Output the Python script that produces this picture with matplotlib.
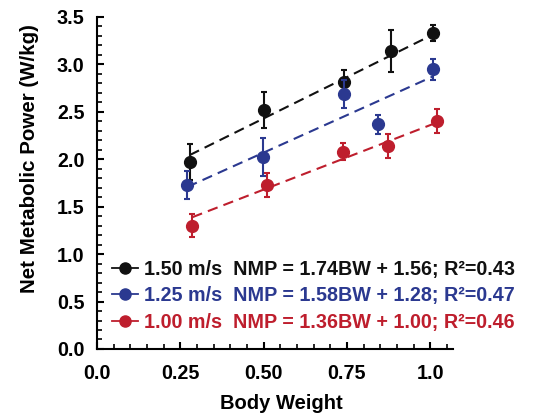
import matplotlib
matplotlib.use("Agg")
import matplotlib.pyplot as plt
from matplotlib.lines import Line2D
from matplotlib.ticker import MultipleLocator, FixedLocator, FixedFormatter
import numpy as np

plt.rcParams['font.family'] = ['Liberation Sans', 'DejaVu Sans']
plt.rcParams['font.weight'] = 'bold'

speeds = ["1.50 m/s", "1.25 m/s", "1.00 m/s"]
colors = ["#111111", "#2b3990", "#be1e2d"]
equations = ["NMP = 1.74BW + 1.56; R\u00b2=0.43",
             "NMP = 1.58BW + 1.28; R\u00b2=0.47",
             "NMP = 1.36BW + 1.00; R\u00b2=0.46"]
slopes = [1.74, 1.58, 1.36]
intercepts = [1.56, 1.28, 1.00]

bw_150 = [0.278, 0.500, 0.742, 0.881, 1.008]
nmp_150 = [1.97, 2.52, 2.81, 3.14, 3.33]
err_150 = [0.19, 0.19, 0.13, 0.22, 0.085]

bw_125 = [0.271, 0.498, 0.740, 0.842, 1.007]
nmp_125 = [1.73, 2.02, 2.69, 2.37, 2.95]
err_125 = [0.15, 0.20, 0.15, 0.10, 0.11]

bw_100 = [0.286, 0.510, 0.737, 0.872, 1.019]
nmp_100 = [1.30, 1.73, 2.08, 2.14, 2.40]
err_100 = [0.12, 0.13, 0.09, 0.13, 0.125]

xs = [bw_150, bw_125, bw_100]
ys = [nmp_150, nmp_125, nmp_100]
es = [err_150, err_125, err_100]

xtick_vals = [0.0, 0.25, 0.50, 0.75, 1.0]
xtick_labels = ["0.0", "0.25", "0.50", "0.75", "1.0"]

fig = plt.figure(figsize=(5.36, 4.13), dpi=100)
ax = fig.add_axes([0.181, 0.155, 0.664, 0.804])

for i in range(3):
    x = np.array(xs[i]); y = np.array(ys[i]); e = np.array(es[i])
    xl = np.array([x.min(), x.max()])
    ax.plot(xl, slopes[i] * xl + intercepts[i], ls=(0, (5, 3)), color=colors[i],
            lw=1.5, zorder=2 + i)
    ax.errorbar(x, y, yerr=e, fmt='o', color=colors[i], ms=8.5, elinewidth=1.5,
                capsize=2.5, capthick=1.5, zorder=5 + i)

ax.set_xlim(0, 1.068)
ax.set_ylim(0, 3.5)
ax.spines['top'].set_visible(False)
ax.spines['right'].set_visible(False)
for s in ['left', 'bottom']:
    ax.spines[s].set_linewidth(1.5)
ax.xaxis.set_major_locator(FixedLocator(xtick_vals))
ax.xaxis.set_major_formatter(FixedFormatter(xtick_labels))
ax.xaxis.set_minor_locator(MultipleLocator(0.05))
ax.yaxis.set_major_locator(MultipleLocator(0.5))
ax.yaxis.set_minor_locator(MultipleLocator(0.1))
ax.yaxis.set_major_formatter(plt.FuncFormatter(lambda v, p: f"{v:.1f}"))
ax.tick_params(which='major', direction='in', length=5, width=1.5, labelsize=14.2)
ax.tick_params(which='minor', direction='in', length=3.5, width=1.2)
ax.tick_params(axis='x', which='major', pad=11)
ax.tick_params(axis='y', which='major', pad=9)
ax.set_xlabel("Body Weight", fontsize=14.5, fontweight='bold')
ax.xaxis.set_label_coords(0.517, -0.135)
ax.set_ylabel("Net Metabolic Power (W/kg)", fontsize=14.8, fontweight='bold')
ax.yaxis.set_label_coords(-0.162, 0.572)

handles = [Line2D([], [], color=c, marker='o', ms=8, lw=1.3) for c in colors]
labels = [f"{s}  {eq}" for s, eq in zip(speeds, equations)]
leg = ax.legend(handles, labels, loc='upper left', bbox_to_anchor=(0.042, 0.268),
                frameon=False, handlelength=1.3, handletextpad=0.3,
                labelspacing=0.37, borderaxespad=0.0, borderpad=0.0,
                prop={'weight': 'bold', 'size': 14.2})
for t, c in zip(leg.get_texts(), colors):
    t.set_color(c)

fig.savefig("out.png", dpi=100)
